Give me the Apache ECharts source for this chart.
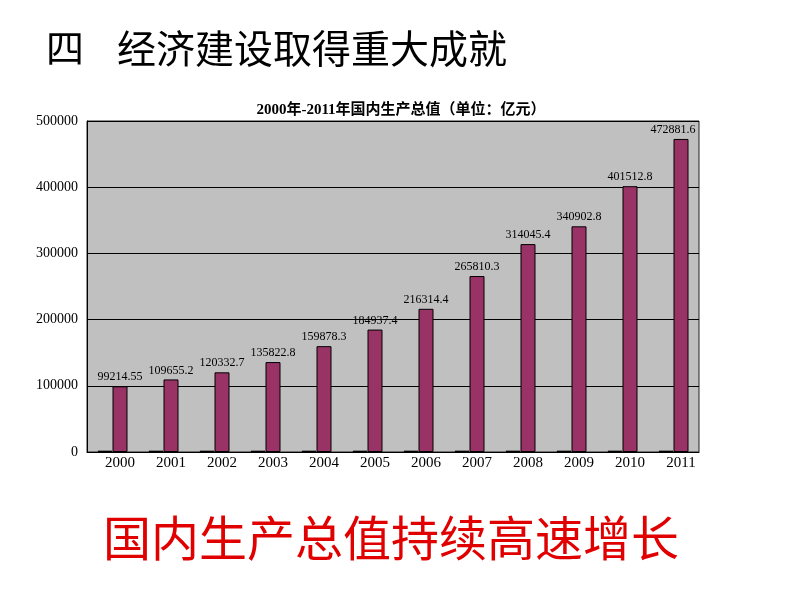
<!DOCTYPE html>
<html>
<head>
<meta charset="utf-8">
<script src="https://cdn.jsdelivr.net/npm/echarts@6/dist/echarts.min.js"></script>
<style>
html,body{margin:0;padding:0;background:#fff;}
#main{width:794px;height:596px;}
</style>
</head>
<body>
<div id="main"></div>
<script>
var categories = ['2000','2001','2002','2003','2004','2005','2006','2007','2008','2009','2010','2011'];
var yearSeries = [2000,2001,2002,2003,2004,2005,2006,2007,2008,2009,2010,2011];
var gdpValues = [99214.55,109655.2,120332.7,135822.8,159878.3,184937.4,216314.4,265810.3,314045.4,340902.8,401512.8,472881.6];
var yTicks = [0,100000,200000,300000,400000,500000];

var chart = echarts.init(document.getElementById('main'), null, {renderer:'canvas'});

var gdpData = gdpValues.map(function(v, i){
  var item = {value: v};
  if (i === gdpValues.length - 1) { item.label = {offset: [-8, 0]}; }
  return item;
});

var option = {
  backgroundColor: '#ffffff',
  animation: false,
  title: {
    text: '2000年-2011年国内生产总值（单位：亿元）',
    left: 396, top: 98, textAlign: 'center',
    textStyle: {fontFamily: '"Liberation Serif","Noto Sans CJK SC"', fontWeight: 'bold', fontSize: 15, color: '#000'}
  },
  graphic: [
    {type:'text', left: 46, top: 29, style:{text:'四', font:'38px "Noto Sans CJK SC"', fill:'#000'}},
    {type:'text', left: 117, top: 29, style:{text:'经济建设取得重大成就', font:'39px "Noto Sans CJK SC"', fill:'#000'}},
    {type:'text', left: 103, top: 514, style:{text:'国内生产总值持续高速增长', font:'48px "Noto Sans CJK SC"', fill:'#e00000'}}
  ],
  grid: {left: 87, right: 95, top: 121, bottom: 144, show: true, backgroundColor: '#c0c0c0', borderColor: '#222', borderWidth: 1},
  xAxis: {
    type: 'category', data: categories,
    axisLine: {lineStyle: {color: '#000', width: 1}},
    axisTick: {show: false},
    axisLabel: {fontFamily: '"Liberation Serif"', fontSize: 15, color: '#000', margin: 4, padding: [0,0,0,15]}
  },
  yAxis: {
    type: 'value', min: yTicks[0], max: yTicks[yTicks.length-1], interval: yTicks[1]-yTicks[0],
    axisLine: {show: true, lineStyle: {color: '#000'}},
    axisTick: {show: false},
    axisLabel: {fontFamily: '"Liberation Serif"', fontSize: 14, color: '#000', margin: 9,
      formatter: function(v){ return String(v); }},
    splitLine: {lineStyle: {color: '#000', width: 1}}
  },
  series: [
    {type:'bar', data: yearSeries, barWidth: 15, barGap: '0%',
     itemStyle: {color: '#9999ff', borderColor: '#000', borderWidth: 1}},
    {type:'bar', data: gdpData, barWidth: 15, barGap: '0%',
     itemStyle: {color: '#993366', borderColor: '#000', borderWidth: 1},
     label: {show: true, position: 'top', distance: 3, fontFamily: '"Liberation Serif"', fontSize: 12, color: '#000'}}
  ]
};
chart.setOption(option);
</script>
</body>
</html>
